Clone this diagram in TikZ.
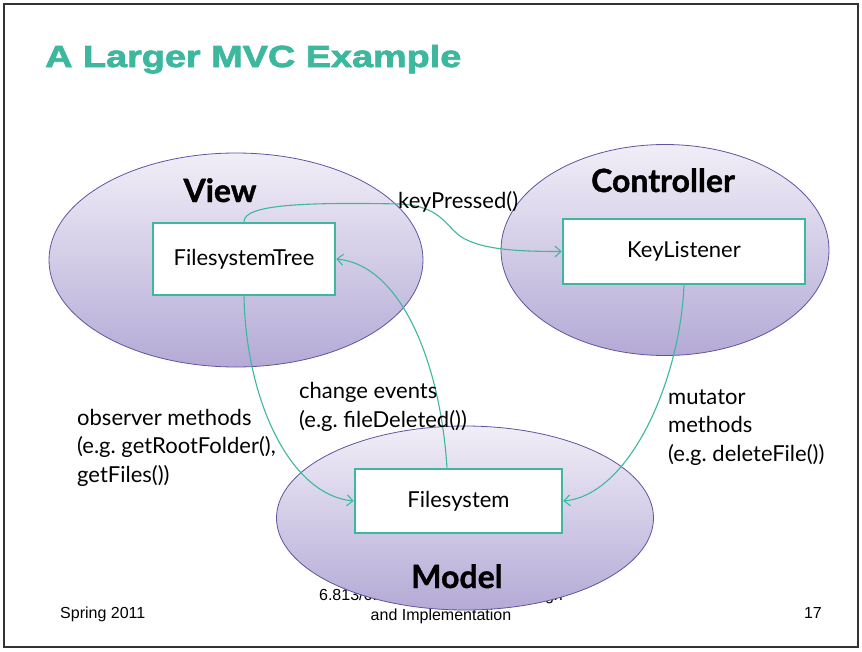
\documentclass[tikz,border=0pt]{standalone}
\usepackage{fontspec}
\setmainfont{Lato}[BoldFeatures={FakeBold=1.2}]
\newfontfamily\titlefont[FakeStretch=1.24,FakeBold=2.4]{Liberation Sans}
\newfontfamily\footfont{Liberation Sans}
\usetikzlibrary{shapes.geometric,arrows.meta}
\frenchspacing
\definecolor{teal1}{RGB}{61,184,158}
\definecolor{lavtop}{RGB}{241,238,247}
\definecolor{lavbot}{RGB}{180,170,214}
\definecolor{lavline}{RGB}{96,84,160}
\tikzset{
  part/.style={ellipse, draw=lavline, line width=0.8pt, top color=lavtop, bottom color=lavbot, inner sep=0pt},
  compbox/.style={rectangle, draw=teal1, line width=2.6pt, fill=white, inner sep=0pt, font=\fontsize{22}{26}\selectfont},
  partlabel/.style={font=\fontsize{32}{36}\selectfont\bfseries, anchor=base},
  conn/.style={draw=teal1, line width=1.1pt, -{Straight Barb[length=6pt,width=11pt]}},
  note/.style={font=\fontsize{22}{28.5}\selectfont, align=left, anchor=base west, inner sep=0pt},
  foot/.style={font=\footfont\fontsize{16}{20}\selectfont, inner sep=0pt}
}
\begin{document}
\begin{tikzpicture}[x=1pt,y=-1pt]
\useasboundingbox (0,0) rectangle (862,651);
\fill[white] (0,0) rectangle (862,651);
\draw[line width=1.6pt, black!80] (4,4) rectangle (858,647);

% slide title
\node[anchor=base west, inner sep=0pt, text=teal1, font=\titlefont\fontsize{30.5}{34}\selectfont\bfseries] (title) at (45,67) {A Larger MVC Example};

% footer (partly hidden behind the Model ellipse); multi-line nodes sit on their last baseline
\node[foot, anchor=base west] (season) at (60,618) {Spring 2011};
\node[foot, anchor=base east] (pageno) at (822,618) {17};
\node[foot, anchor=base, align=center] (course) at (441,620) {6.813/6.831 User Interface Design\\and Implementation};

% the three parts
\node[part, minimum width=374pt, minimum height=214pt] (view) at (236,260) {};
\node[part, minimum width=328pt, minimum height=211pt] (ctrl) at (665,250) {};
\node[part, minimum width=377pt, minimum height=184pt] (model) at (465,518) {};

\node[partlabel] (viewlbl) at (220,202) {View};
\node[partlabel] (ctrllbl) at (663,192) {Controller};
\node[partlabel] (modellbl) at (457,588) {Model};

% components
\node[compbox, minimum width=182pt, minimum height=72pt] (tree) at (244,259) {FilesystemTree};
\node[compbox, minimum width=242pt, minimum height=65pt] (keyl) at (684,251.5) {KeyListener};
\node[compbox, minimum width=207pt, minimum height=64pt] (fs) at (458.5,501) {Filesystem};

% connectors
\draw[conn] (tree.north) .. controls (244,205) and (300,202) .. (400,204)
  .. controls (440,206) and (445,225) .. (460,236)
  .. controls (480,250) and (520,251.5) .. (keyl.west);
\draw[conn] ([xshift=-11.5pt]fs.north) .. controls (440,360) and (400,265) .. (tree.east);
\draw[conn] (tree.south) .. controls (246,400) and (290,495) .. (fs.west);
\draw[conn] (keyl.south) .. controls (680,380) and (630,495) .. (fs.east);

% connector labels (anchored on the baseline of their last line)
\node[note] (kp) at (398,208) {keyPressed()};
\node[note] (chg) at (299,427) {change events\\(e.g. fileDeleted())};
\node[note] (obs) at (77,482) {observer methods\\(e.g. getRootFolder(),\\getFiles())};
\node[note] (mut) at (668,461) {mutator\\methods\\(e.g. deleteFile())};
\end{tikzpicture}
\end{document}
